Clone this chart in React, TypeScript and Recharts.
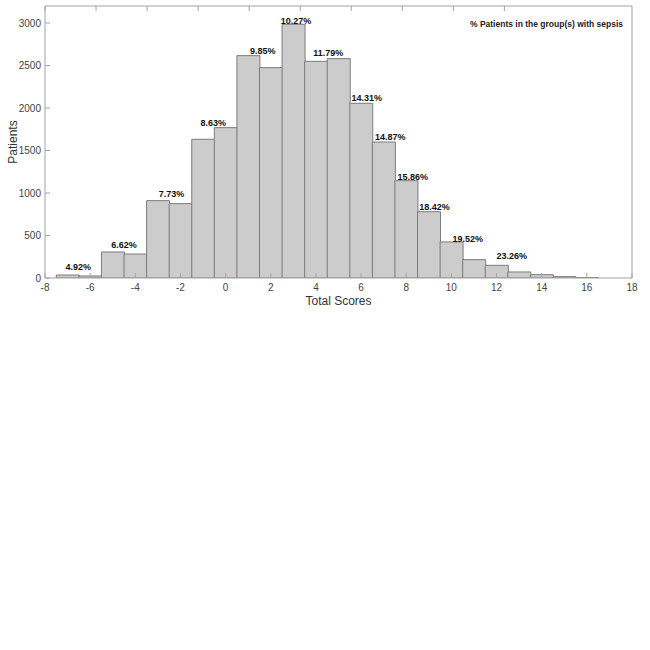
import { Bar, ComposedChart, Scatter, XAxis, YAxis } from 'recharts'

// histogram of total scores
const scores = [-7, -6, -5, -4, -3, -2, -1, 0, 1, 2, 3, 4, 5, 6, 7, 8, 9, 10, 11, 12, 13, 14, 15, 16]
const patients = [35, 24, 306, 282, 910, 875, 1632, 1769, 2616, 2475, 2985, 2549, 2581, 2055, 1600, 1145, 780, 424, 216, 149, 71, 39, 16, 6]

// % with sepsis annotations (position in data units)
const sepsisText = ['4.92%', '6.62%', '7.73%', '8.63%', '9.85%', '10.27%', '11.79%', '14.31%', '14.87%', '15.86%', '18.42%', '19.52%', '23.26%']
const sepsisX = [-6.53, -4.5, -2.4, -0.55, 1.65, 3.12, 4.55, 6.25, 7.29, 8.29, 9.25, 10.73, 12.67]
const sepsisY = [130, 388, 988, 1824, 2670, 3024, 2647, 2118, 1659, 1188, 835, 459, 259]

const xTicks = [-8, -6, -4, -2, 0, 2, 4, 6, 8, 10, 12, 14, 16, 18]
const yTicks = [0, 500, 1000, 1500, 2000, 2500, 3000]

const barRows = scores.map((s, i) => ({ score: s, patients: patients[i] }))
const labelRows = sepsisText.map((t, i) => ({ score: sepsisX[i], patients: sepsisY[i], text: t }))

const font = 'Helvetica, Arial, "Liberation Sans", sans-serif'
const frame = '#a3a3a3'

function BottomTick({ x, y, payload }: any) {
  return (
    <g>
      <line x1={x} x2={x} y1={y} y2={y - 5} stroke={frame} />
      <text x={x} y={y + 13} textAnchor="middle" fontFamily={font} fontSize={10} fill="#444">
        {payload.value}
      </text>
    </g>
  )
}

function TopTick({ x, y }: any) {
  return <line x1={x} x2={x} y1={y} y2={y + 5} stroke={frame} />
}

function LeftTick({ x, y, payload }: any) {
  return (
    <g>
      <line x1={x} x2={x + 5} y1={y} y2={y} stroke={frame} />
      <text x={x - 4} y={y} dy="0.35em" textAnchor="end" fontFamily={font} fontSize={10} fill="#444">
        {payload.value}
      </text>
    </g>
  )
}

function RightTick({ x, y }: any) {
  return <line x1={x} x2={x - 5} y1={y} y2={y} stroke={frame} />
}

function PctLabel({ cx, cy, payload }: any) {
  return (
    <text x={cx} y={cy} dy="0.35em" textAnchor="middle" fontFamily={font} fontSize={9} fontWeight="bold" fill="#111">
      {payload.text}
    </text>
  )
}

export default function App() {
  return (
    <div style={{ position: 'absolute', left: 0, top: 0, background: '#fff' }}>
      <ComposedChart
        width={650}
        height={320}
        data={barRows}
        margin={{ top: 5, right: 17, left: 10, bottom: 12 }}
        barCategoryGap={0}
        barGap={0}
      >
        <XAxis
          xAxisId="bottom"
          type="number"
          dataKey="score"
          domain={[-8, 18]}
          ticks={xTicks}
          interval={0}
          allowDataOverflow
          height={30}
          tickSize={0}
          tickMargin={0}
          tick={<BottomTick />}
          axisLine={{ stroke: frame }}
          label={{
            content: ({ viewBox }: any) => (
              <text x={viewBox.x + viewBox.width / 2} y={viewBox.y + 27} textAnchor="middle" fontFamily={font} fontSize={12} fill="#333">
                Total Scores
              </text>
            ),
          }}
        />
        <XAxis
          xAxisId="top"
          orientation="top"
          type="number"
          domain={[-8, 18]}
          ticks={xTicks}
          interval={0}
          height={1}
          tickSize={0}
          tickMargin={0}
          tick={<TopTick />}
          axisLine={{ stroke: frame }}
          label={{
            content: ({ viewBox }: any) => (
              <text x={viewBox.x + viewBox.width - 9} y={viewBox.y + viewBox.height + 18} dy="0.35em" textAnchor="end" fontFamily={font} fontSize={8.5} fontWeight="bold" fill="#222">
                % Patients in the group(s) with sepsis
              </text>
            ),
          }}
        />
        <XAxis xAxisId="lbl" type="number" dataKey="score" domain={[-8, 18]} allowDataOverflow hide />
        <YAxis
          yAxisId="left"
          type="number"
          domain={[0, 3200]}
          ticks={yTicks}
          interval={0}
          allowDataOverflow
          width={35}
          tickSize={0}
          tickMargin={0}
          tick={<LeftTick />}
          axisLine={{ stroke: frame }}
          label={{
            content: ({ viewBox }: any) => (
              <text
                x={viewBox.x + 3}
                y={viewBox.y + viewBox.height / 2}
                transform={`rotate(-90 ${viewBox.x + 3} ${viewBox.y + viewBox.height / 2})`}
                dy="0.35em"
                textAnchor="middle"
                fontFamily={font}
                fontSize={12}
                fill="#333"
              >
                Patients
              </text>
            ),
          }}
        />
        <YAxis
          yAxisId="right"
          orientation="right"
          type="number"
          domain={[0, 3200]}
          ticks={yTicks}
          interval={0}
          width={1}
          tickSize={0}
          tickMargin={0}
          tick={<RightTick />}
          axisLine={{ stroke: frame }}
        />
        <Bar
          xAxisId="bottom"
          yAxisId="left"
          dataKey="patients"
          fill="#cccccc"
          stroke="#7c7c7c"
          strokeWidth={1}
          isAnimationActive={false}
        />
        <Scatter
          xAxisId="lbl"
          yAxisId="left"
          data={labelRows}
          dataKey="patients"
          shape={<PctLabel />}
          isAnimationActive={false}
        />
      </ComposedChart>
    </div>
  )
}
